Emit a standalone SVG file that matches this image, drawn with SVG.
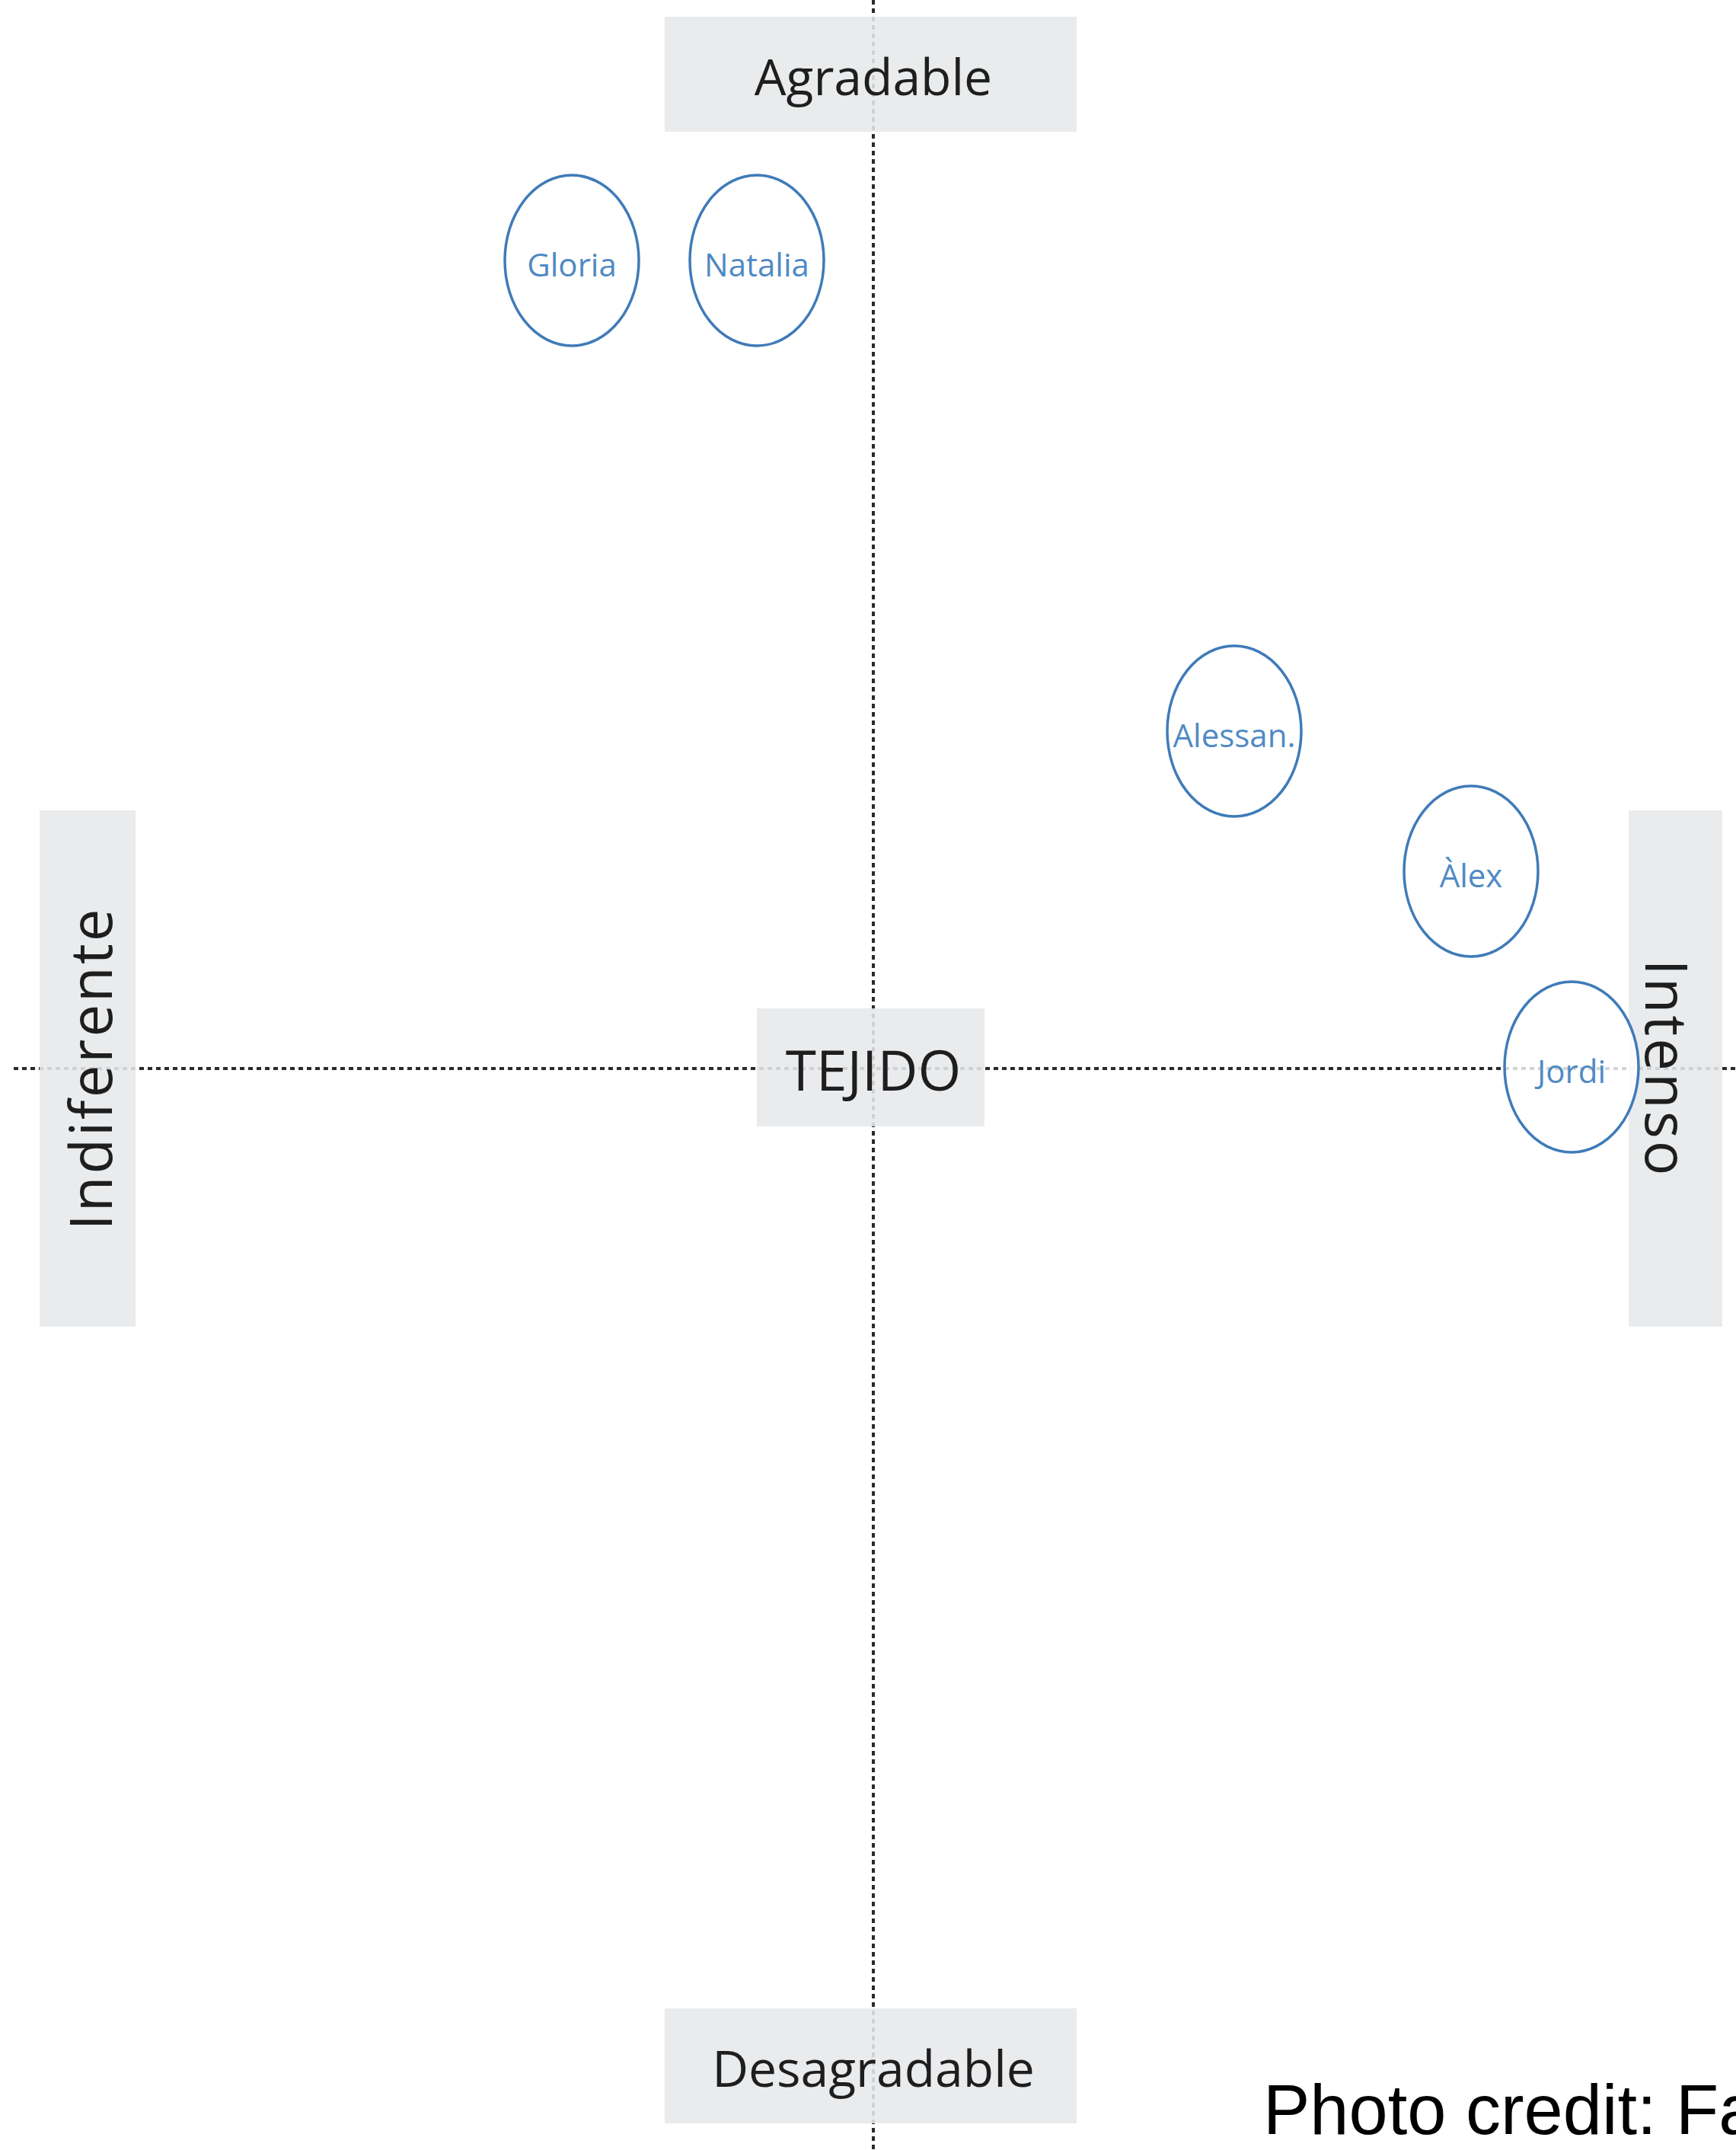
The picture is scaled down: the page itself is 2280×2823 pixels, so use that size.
<svg xmlns="http://www.w3.org/2000/svg" width="2280" height="2823" viewBox="0 0 2280 2823">
<style>
.axis{stroke:#2a2a2a;stroke-width:4;stroke-dasharray:6 5;fill:none}
.box{fill:#e6e8ea;fill-opacity:0.88}
.lbl{font-family:"Open Sans","Noto Sans",sans-serif;font-size:66px;fill:#1e1e1e;text-anchor:middle;dominant-baseline:central}
.vl{font-size:76px;letter-spacing:3px}
.node ellipse{fill:#fff;fill-opacity:0.8;stroke:#3f7bb8;stroke-width:3.5}
.node text{font-family:"Open Sans","Noto Sans",sans-serif;font-size:42px;fill:#4f8ac4;text-anchor:middle;dominant-baseline:central}
.credit{font-family:"Liberation Sans",Arial,sans-serif;font-size:92px;fill:#000}
</style>
<rect width="2280" height="2823" fill="#fff"/>
<g id="connectors">
<line class="axis" x1="1147" y1="0" x2="1147" y2="2823"/>
<line class="axis" x1="18" y1="1403" x2="2280" y2="1403"/>
</g>
<g id="agradable">
<rect class="box" x="873" y="22" width="541" height="151"/>
<text class="lbl" x="1147" y="99">Agradable</text>
</g>
<g id="desagradable">
<rect class="box" x="873" y="2637" width="541" height="151"/>
<text class="lbl" x="1147" y="2714">Desagradable</text>
</g>
<g id="tejido">
<rect class="box" x="994" y="1324" width="299" height="155"/>
<text class="lbl" x="1147" y="1403" style="font-size:73px">TEJIDO</text>
</g>
<g id="indiferente">
<rect class="box" x="52" y="1064" width="126" height="678"/>
<text class="lbl vl" transform="translate(117 1403) rotate(-90)">Indiferente</text>
</g>
<g id="intenso">
<rect class="box" x="2139" y="1064" width="123" height="678"/>
<text class="lbl vl" transform="translate(2190 1403) rotate(90)">Intenso</text>
</g>
<g id="gloria" class="node">
<ellipse cx="751" cy="342" rx="88" ry="112"/>
<text x="751" y="346">Gloria</text>
</g>
<g id="natalia" class="node">
<ellipse cx="994" cy="342" rx="88" ry="112"/>
<text x="994" y="346">Natalia</text>
</g>
<g id="alessan" class="node">
<ellipse cx="1621" cy="960" rx="88" ry="112"/>
<text x="1621" y="964">Alessan.</text>
</g>
<g id="alex" class="node">
<ellipse cx="1932" cy="1144" rx="88" ry="112"/>
<text x="1932" y="1148">Àlex</text>
</g>
<g id="jordi" class="node">
<ellipse cx="2064" cy="1401" rx="88" ry="112"/>
<text x="2064" y="1405">Jordi</text>
</g>
<text class="credit" x="1659" y="2802">Photo credit: Fa</text>
</svg>
